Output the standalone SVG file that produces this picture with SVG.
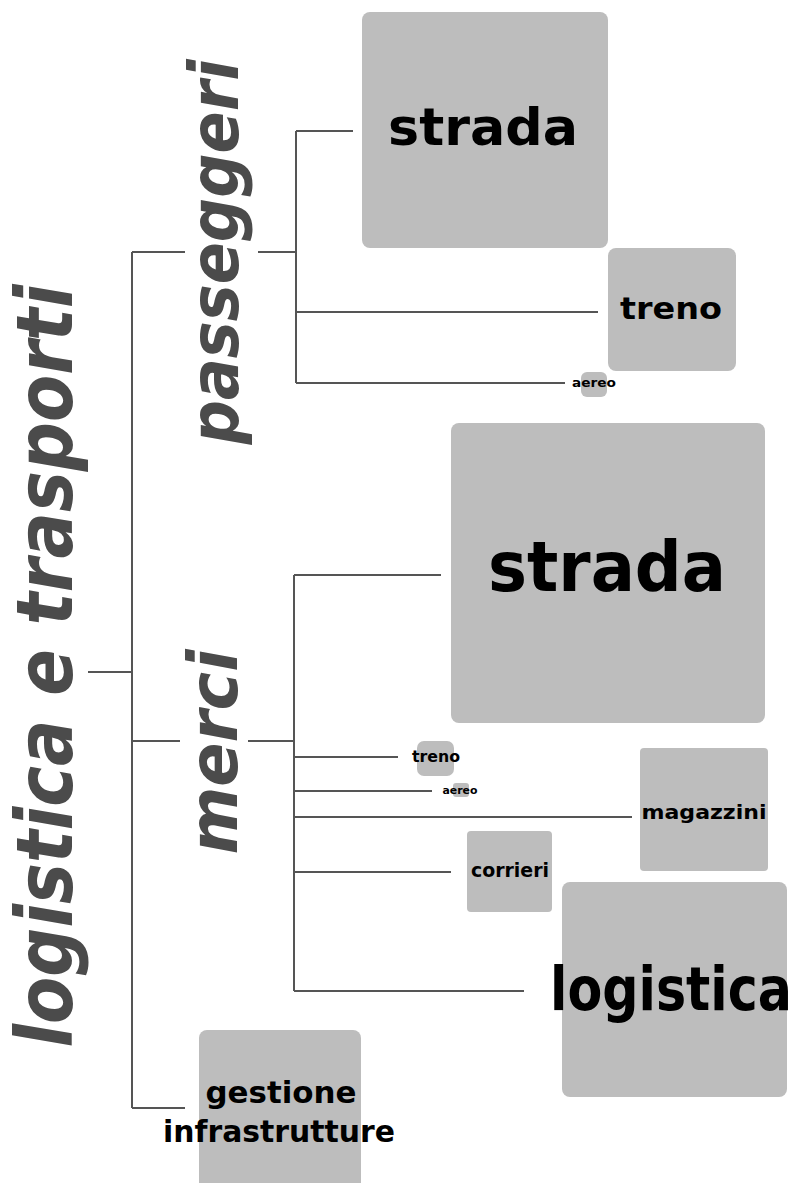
<svg xmlns="http://www.w3.org/2000/svg" width="803" height="1183" viewBox="0 0 803 1183">
<style>
.box{fill:#bdbdbd}
.lbl{font-family:"DejaVu Sans",sans-serif;font-weight:bold;fill:#000;text-anchor:middle}
.rot{font-family:"DejaVu Sans",sans-serif;font-weight:bold;font-style:italic;fill:#4b4b4b;text-anchor:middle}
.ln{stroke:#555;stroke-width:2;fill:none}
</style>
<rect width="803" height="1183" fill="#fff"/>
<g id="connectors" class="ln">
<path d="M88 672H132M132 252V1108M132 252H185M258 252H296M296 131V383M296 131H353M296 312H598M296 383H565"/>
<path d="M132 741H180M248 741H294M294 575V991M294 575H441M294 757H398M294 791H432M294 817H632M294 872H451M294 991H524M132 1108H185"/>
</g>
<g id="root"><text class="rot" transform="translate(72,666) rotate(-90)" font-size="78" textLength="763" lengthAdjust="spacingAndGlyphs">logistica e trasporti</text></g>
<g id="passeggeri"><text class="rot" transform="translate(238,252) rotate(-90)" font-size="68" textLength="385" lengthAdjust="spacingAndGlyphs">passeggeri</text></g>
<g id="merci"><text class="rot" transform="translate(237,752) rotate(-90)" font-size="68" textLength="205" lengthAdjust="spacingAndGlyphs">merci</text></g>
<g id="p-strada"><rect class="box" x="362" y="12" width="246" height="236" rx="8"/><text class="lbl" x="483" y="145" font-size="52" textLength="190" lengthAdjust="spacingAndGlyphs">strada</text></g>
<g id="p-treno"><rect class="box" x="608" y="248" width="128" height="123" rx="8"/><text class="lbl" x="671" y="319" font-size="31" textLength="102" lengthAdjust="spacingAndGlyphs">treno</text></g>
<g id="p-aereo"><rect class="box" x="581" y="372" width="26" height="25" rx="6"/><text class="lbl" x="594" y="387" font-size="13" textLength="44" lengthAdjust="spacingAndGlyphs">aereo</text></g>
<g id="m-strada"><rect class="box" x="451" y="423" width="314" height="300" rx="8"/><text class="lbl" x="607" y="591" font-size="70" textLength="238" lengthAdjust="spacingAndGlyphs">strada</text></g>
<g id="m-treno"><rect class="box" x="417" y="741" width="37" height="35" rx="7"/><text class="lbl" x="436" y="762" font-size="16" textLength="48" lengthAdjust="spacingAndGlyphs">treno</text></g>
<g id="m-aereo"><rect class="box" x="453" y="783" width="16" height="14" rx="3"/><text class="lbl" x="460" y="794" font-size="11" textLength="35" lengthAdjust="spacingAndGlyphs">aereo</text></g>
<g id="magazzini"><rect class="box" x="640" y="748" width="128" height="123" rx="4"/><text class="lbl" x="704" y="819" font-size="20" textLength="125" lengthAdjust="spacingAndGlyphs">magazzini</text></g>
<g id="corrieri"><rect class="box" x="467" y="831" width="85" height="81" rx="4"/><text class="lbl" x="510" y="877" font-size="19" textLength="78" lengthAdjust="spacingAndGlyphs">corrieri</text></g>
<g id="logistica"><rect class="box" x="562" y="882" width="225" height="215" rx="8"/><text class="lbl" x="671" y="1010" font-size="60" textLength="242" lengthAdjust="spacingAndGlyphs">logistica</text></g>
<g id="gestione"><rect class="box" x="199" y="1030" width="162" height="160" rx="8"/><text class="lbl" x="281" y="1103" font-size="30" textLength="151" lengthAdjust="spacingAndGlyphs">gestione</text><text class="lbl" x="279" y="1142" font-size="30" textLength="232" lengthAdjust="spacingAndGlyphs">infrastrutture</text></g>
</svg>
